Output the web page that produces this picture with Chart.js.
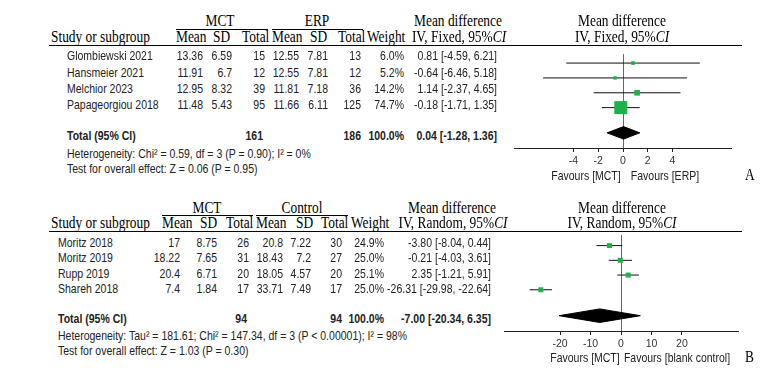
<!DOCTYPE html>
<html>
<head>
<meta charset="utf-8">
<script src="https://cdn.jsdelivr.net/npm/chart.js@4.4.1/dist/chart.umd.min.js"></script>
<style>
  html, body { margin: 0; padding: 0; background: #fff; }
  #page { position: relative; width: 779px; height: 376px; overflow: hidden; }
  .t { position: absolute; white-space: nowrap; font: 10.5px "Liberation Sans", Arial, sans-serif; color: #222; line-height: 12px; }
  .s { font: 13.4px "Liberation Serif", "Times New Roman", serif; color: #000; line-height: 15px; }
  .b { font-weight: bold; }
  .hl { position: absolute; height: 0; border-top: 1px solid #000; }
  .cw { position: absolute; }
</style>
</head>
<body>
<div id="page">
  <div class="cw" id="wrapA" style="left:505px;top:45px;width:236px;height:133px"><canvas id="chA"></canvas></div>
  <div class="cw" id="wrapB" style="left:500px;top:231px;width:242px;height:130px"><canvas id="chB"></canvas></div>
</div>
<script>
// ── A: MCT vs ERP (fixed effect) ──
const studiesA = ['Glombiewski 2021', 'Hansmeier 2021', 'Melchior 2023', 'Papageorgiou 2018'];
const mctMeanA = [13.36, 11.91, 12.95, 11.48];
const mctSdA   = [6.59, 6.7, 8.32, 5.43];
const mctNA    = [15, 12, 39, 95];
const erpMeanA = [12.55, 12.55, 11.81, 11.66];
const erpSdA   = [7.81, 7.81, 7.18, 6.11];
const erpNA    = [13, 12, 36, 125];
const weightA  = [6.0, 5.2, 14.2, 74.7];
const mdA      = [0.81, -0.64, 1.14, -0.18];
const loA      = [-4.59, -6.46, -2.37, -1.71];
const hiA      = [6.21, 5.18, 4.65, 1.35];
const totalA   = [0.04, -1.28, 1.36];      // md, lo, hi
const totNA    = [161, 186];
const ticksA   = [-4, -2, 0, 2, 4];

// ── B: MCT vs blank control (random effects) ──
const studiesB = ['Moritz 2018', 'Moritz 2019', 'Rupp 2019', 'Shareh 2018'];
const mctMeanB = [17, 18.22, 20.4, 7.4];
const mctSdB   = [8.75, 7.65, 6.71, 1.84];
const mctNB    = [26, 31, 20, 17];
const ctlMeanB = [20.8, 18.43, 18.05, 33.71];
const ctlSdB   = [7.22, 7.2, 4.57, 7.49];
const ctlNB    = [30, 27, 20, 17];
const weightB  = [24.9, 25.0, 25.1, 25.0];
const mdB      = [-3.80, -0.21, 2.35, -26.31];
const loB      = [-8.04, -4.03, -1.21, -29.98];
const hiB      = [0.44, 3.61, 5.91, -22.64];
const totalB   = [-7.00, -20.34, 6.35];
const totNB    = [94, 94];
const ticksB   = [-20, -10, 0, 10, 20];

const page = document.getElementById('page');
const SANS = '"Liberation Sans", Arial, sans-serif';
const GREEN = '#1fb04a';

function put(txt, x, y, align, cls) {
  const d = document.createElement('div');
  d.className = 't ' + (cls || '');
  d.innerHTML = txt;
  const tx = align === 'r' ? '-100%' : align === 'c' ? '-50%' : '0';
  d.style.left = x + 'px';
  d.style.top = y + 'px';
  d.style.transform = `translate(${tx},-50%) scaleY(1.2)`;
  page.appendChild(d);
}
function hline(x1, x2, y) {
  const d = document.createElement('div');
  d.className = 'hl';
  d.style.left = x1 + 'px'; d.style.width = (x2 - x1) + 'px'; d.style.top = y + 'px';
  page.appendChild(d);
}
const ci = (m, l, h) => `${m.toFixed(2)} [${l.toFixed(2)}, ${h.toFixed(2)}]`;

function table(d, L) {
  put(d.g1, L.g1c, L.grpY, 'c', 's');
  put(d.g2, L.g2c, L.grpY, 'c', 's');
  hline(L.g1[0], L.g1[1], L.ulY);
  hline(L.g2[0], L.g2[1], L.ulY);
  put('Study or subgroup', 51, L.hdY, 'l', 's');
  ['Mean', 'SD', 'Total', 'Mean', 'SD', 'Total', 'Weight'].forEach((h, i) => put(h, L.hx[i], L.hdY, 'l', 's'));
  put('Mean difference', L.mdc, L.grpY, 'c', 's');
  put(d.method, L.mdc + 1, L.hdY, 'c', 's');
  put('Mean difference', 622, L.grpY, 'c', 's');
  put(d.method, 622, L.hdY, 'c', 's');
  hline(49, 742, L.lineY);

  d.studies.forEach((s, i) => {
    const y = L.rows[i];
    put(s, L.nameX, y, 'l');
    const cells = [d.m1[i], d.s1[i], d.n1[i], d.m2[i], d.s2[i], d.n2[i], d.w[i].toFixed(1) + '%'];
    cells.forEach((c, j) => put(String(c), L.rx[j], y, 'r'));
    put(ci(d.md[i], d.lo[i], d.hi[i]), L.rx[7], y, 'r');
  });
  put('Total (95% CI)', L.nameX, L.totY, 'l', 'b');
  put(String(d.totN[0]), L.rx[2] - 2, L.totY, 'r', 'b');
  put(String(d.totN[1]), L.rx[5], L.totY, 'r', 'b');
  put('100.0%', L.rx[6], L.totY, 'r', 'b');
  put(ci(d.total[0], d.total[1], d.total[2]), L.rx[7], L.totY, 'r', 'b');
  put(d.het, L.nameX, L.hetY, 'l');
  put(d.test, L.nameX, L.hetY + 15, 'l');
  put('Favours [MCT]', L.fav[0], L.favY, 'c');
  put(d.favR, L.fav[1], L.favY, 'c');
  put(d.tag, 745, L.favY, 'l', 's');
}

function forest(id, d, P) {
  const ds = [{
    data: d.md.map((m, i) => ({ x: m, y: i + P.row0 })),
    pointStyle: 'rect',
    pointRadius: d.w.map(w => P.k * Math.sqrt(w) / Math.SQRT2),
    backgroundColor: GREEN, borderWidth: 0, showLine: false
  }];
  d.md.forEach((m, i) => ds.push({
    data: [{ x: d.lo[i], y: i + P.row0 }, { x: d.hi[i], y: i + P.row0 }],
    showLine: true, borderColor: '#111', borderWidth: 1, pointRadius: 0
  }));
  const [tm, tl, th] = d.total;
  ds.push({
    data: [{ x: tl, y: P.totY }, { x: tm, y: P.totY - P.dh }, { x: th, y: P.totY },
           { x: tm, y: P.totY + P.dh }, { x: tl, y: P.totY }],
    showLine: true, fill: 'shape', backgroundColor: '#000', borderColor: '#000',
    borderWidth: 1, pointRadius: 0
  });

  new Chart(document.getElementById(id), {
    type: 'scatter',
    data: { datasets: ds },
    options: {
      responsive: true, maintainAspectRatio: false, animation: false, clip: false,
      layout: { padding: 0 },
      plugins: { legend: { display: false }, tooltip: { enabled: false } },
      scales: {
        x: {
          type: 'linear', min: -P.span, max: P.span, position: 'bottom',
          afterBuildTicks: s => { s.ticks = d.ticks.map(v => ({ value: v })); },
          afterFit: s => { s.height = 30; },
          grid: {
            color: c => (c.tick && c.tick.value === 0) ? '#666' : 'rgba(0,0,0,0)',
            tickColor: '#222', tickLength: 4, lineWidth: 1
          },
          border: { display: true, color: '#222', width: 1 },
          ticks: { font: { family: SANS, size: 10.5 }, color: '#333', padding: 3, maxRotation: 0, autoSkip: false }
        },
        y: { display: false, min: 0, max: P.yMax, reverse: true }
      }
    }
  });
}

const dataA = {
  studies: studiesA, m1: mctMeanA, s1: mctSdA, n1: mctNA, m2: erpMeanA, s2: erpSdA, n2: erpNA,
  w: weightA, md: mdA, lo: loA, hi: hiA, total: totalA, totN: totNA, ticks: ticksA,
  g1: 'MCT', g2: 'ERP', method: 'IV, Fixed, 95%<i>CI</i>', tag: 'A', favR: 'Favours [ERP]',
  het: 'Heterogeneity: Chi² = 0.59, df = 3 (P = 0.90); I² = 0%',
  test: 'Test for overall effect: Z = 0.06 (P = 0.95)'
};
const dataB = {
  studies: studiesB, m1: mctMeanB, s1: mctSdB, n1: mctNB, m2: ctlMeanB, s2: ctlSdB, n2: ctlNB,
  w: weightB, md: mdB, lo: loB, hi: hiB, total: totalB, totN: totNB, ticks: ticksB,
  g1: 'MCT', g2: 'Control', method: 'IV, Random, 95%<i>CI</i>', tag: 'B', favR: 'Favours [blank control]',
  het: 'Heterogeneity: Tau² = 181.61; Chi² = 147.34, df = 3 (P &lt; 0.00001); I² = 98%',
  test: 'Test for overall effect: Z = 1.03 (P = 0.30)'
};

table(dataA, {
  grpY: 21, ulY: 29, hdY: 37, lineY: 45, g1: [176, 268], g2: [272, 363], g1c: 220, g2c: 317,
  hx: [176, 213, 242, 272, 310, 338, 367], mdc: 458,
  rows: [55, 72, 88, 104], nameX: 67, rx: [203, 232, 265, 299, 328, 361, 404, 497],
  totY: 135, hetY: 153, favY: 175, fav: [586, 665]
});
table(dataB, {
  grpY: 208, ulY: 215, hdY: 223, lineY: 231, g1: [162, 253], g2: [256, 348], g1c: 207, g2c: 302,
  hx: [162, 200, 226, 256, 296, 321, 351], mdc: 452,
  rows: [242, 257, 273, 288], nameX: 58, rx: [180, 217, 249, 283, 311, 342, 384, 491],
  totY: 318, hetY: 335, favY: 357, fav: [585, 677]
});

forest('chA', dataA, { span: 8.8, row0: 0.6, totY: 5.3, dh: 0.42, yMax: 6.32, k: 1.5 });
forest('chB', dataB, { span: 38.4, row0: 0.72, totY: 5.48, dh: 0.46, yMax: 6.52, k: 1.0 });
</script>
</body>
</html>
